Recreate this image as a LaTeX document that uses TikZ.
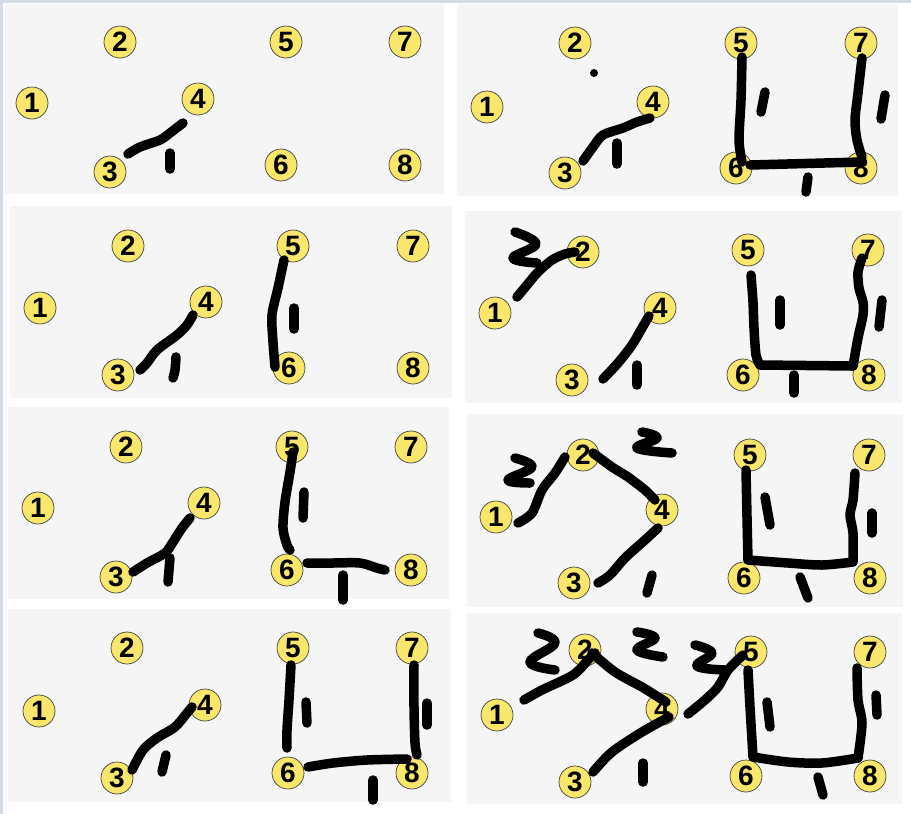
\documentclass[tikz,border=0pt]{standalone}
\usepackage{fontspec}
\setmainfont{Liberation Sans}
\definecolor{nodey}{HTML}{F9E76B}
\definecolor{panelbg}{HTML}{F5F5F5}
\definecolor{frameblue}{HTML}{D3DCE6}
\begin{document}
\begin{tikzpicture}[x=1pt,y=-1pt,
  vtx/.style={circle,draw=black!75,line width=0.7pt,fill=nodey,minimum size=32pt,inner sep=0pt,
    font=\bfseries\fontsize{28}{28}\selectfont},
  ink/.style={line width=9.5pt,line cap=round,line join=round,black},
  panel/.style={fill=panelbg,draw=none}]
\useasboundingbox (0,0) rectangle (911,814);
\fill[white] (0,0) rectangle (911,814);
\fill[frameblue] (0,0) rectangle (3,814);
\fill[frameblue] (0,0) rectangle (911,3);
% panels
\path[panel] (5,4) rectangle (444,194);
\path[panel] (457,4) rectangle (898,196);
\path[panel] (10,206) rectangle (452,398);
\path[panel] (465,211) rectangle (902,403);
\path[panel] (8,407) rectangle (449,599);
\path[panel] (467,414) rectangle (903,607);
\path[panel] (8,609) rectangle (451,802);
\path[panel] (467,613) rectangle (902,804);

% ---------- panel 1L ----------
\node[vtx] (a1) at (32,103) {1};
\node[vtx] (a2) at (120,42) {2};
\node[vtx] (a3) at (110,172) {3};
\node[vtx] (a4) at (198,99) {4};
\node[vtx] (a5) at (286,42) {5};
\node[vtx] (a6) at (281,165) {6};
\node[vtx] (a7) at (405,42) {7};
\node[vtx] (a8) at (405,165) {8};
\draw[ink] plot[smooth] coordinates {(128,154) (140,147) (160,140) (170,133) (183,123)};
\draw[ink] (170,153) -- (170,169);

% ---------- panel 1R ----------
\node[vtx] (b1) at (487,107) {1};
\node[vtx] (b2) at (575,43) {2};
\node[vtx] (b3) at (565,173) {3};
\node[vtx] (b4) at (653,102) {4};
\node[vtx] (b5) at (741,43) {5};
\node[vtx] (b6) at (736,168) {6};
\node[vtx] (b7) at (861,43) {7};
\node[vtx] (b8) at (861,168) {8};
\fill (594,73) circle (4);
\draw[ink] plot[smooth] coordinates {(583,161) (593,147) (603,135) (623,128) (637,122) (650,118)};
\draw[ink] (617,143) -- (617,164);
\draw[ink] plot[smooth] coordinates {(742,57) (741,100) (739,140) (742,162)};
\draw[ink] (750,165) -- (862,162);
\draw[ink] plot[smooth] coordinates {(862,58) (858,93) (855,120) (857,140) (862,157)};
\draw[ink] (765,92) -- (761,112);
\draw[ink] (885,95) -- (881,119);
\draw[ink] (808,177) -- (806,192);

% ---------- panel 2L ----------
\node[vtx] (c1) at (40,308) {1};
\node[vtx] (c2) at (128,246) {2};
\node[vtx] (c3) at (118,375) {3};
\node[vtx] (c4) at (206,302) {4};
\node[vtx] (c5) at (293,246) {5};
\node[vtx] (c6) at (289,368) {6};
\node[vtx] (c7) at (413,246) {7};
\node[vtx] (c8) at (413,368) {8};
\draw[ink] plot[smooth] coordinates {(140,370) (147,363) (157,350) (177,335) (187,325) (193,315)};
\draw[ink] plot[smooth] coordinates {(176,357) (175,370) (173,378)};
\draw[ink] plot[smooth] coordinates {(284,260) (278,288) (272,315) (273,342) (275,367)};
\draw[ink] (294,308) -- (294,329);

% ---------- panel 2R ----------
\node[vtx] (d1) at (495,313) {1};
\node[vtx] (d2) at (583,252) {2};
\node[vtx] (d3) at (572,380) {3};
\node[vtx] (d4) at (660,308) {4};
\node[vtx] (d5) at (748,250) {5};
\node[vtx] (d6) at (743,375) {6};
\node[vtx] (d7) at (868,250) {7};
\node[vtx] (d8) at (869,375) {8};
\draw[ink] plot[smooth] coordinates {(517,297) (527,285) (538,272) (552,260) (565,254) (575,252)};
\draw[ink] plot[smooth,tension=0.7] coordinates {(515,232) (536,244) (513,258) (537,263)};
\draw[ink] plot[smooth] coordinates {(603,379) (618,363) (632,345) (642,328) (649,316)};
\draw[ink] (637,365) -- (637,385);
\draw[ink] plot[smooth] coordinates {(751,275) (753,302) (754,328) (756,355) (760,365)};
\draw[ink] (760,365) -- (853,366);
\draw[ink] plot[smooth] coordinates {(853,366) (858,338) (863,315) (863,302) (859,288) (858,272) (862,258)};
\draw[ink] (780,300) -- (780,325);
\draw[ink] (882,300) -- (879,327);
\draw[ink] (794,375) -- (794,393);

% ---------- panel 3L ----------
\node[vtx] (e1) at (38,508) {1};
\node[vtx] (e2) at (126,447) {2};
\node[vtx] (e3) at (116,577) {3};
\node[vtx] (e4) at (204,503) {4};
\node[vtx] (e5) at (292,447) {5};
\node[vtx] (e6) at (287,570) {6};
\node[vtx] (e7) at (411,447) {7};
\node[vtx] (e8) at (411,570) {8};
\draw[ink] plot[smooth] coordinates {(133,572) (147,563) (165,553) (173,542) (182,528) (190,518)};
\draw[ink] (170,558) -- (168,582);
\draw[ink] plot[smooth] coordinates {(293,452) (290,472) (285,502) (283,528) (287,545) (290,550)};
\draw[ink] (304,492) -- (303,518);
\draw[ink] plot[smooth] coordinates {(307,563) (333,563) (360,563) (377,568) (385,570)};
\draw[ink] (343,575) -- (343,600);

% ---------- panel 3R ----------
\node[vtx] (f1) at (496,517) {1};
\node[vtx] (f2) at (583,455) {2};
\node[vtx] (f3) at (574,583) {3};
\node[vtx] (f4) at (662,510) {4};
\node[vtx] (f5) at (750,455) {5};
\node[vtx] (f6) at (744,578) {6};
\node[vtx] (f7) at (869,455) {7};
\node[vtx] (f8) at (870,578) {8};
\draw[ink] plot[smooth] coordinates {(518,523) (532,513) (542,490) (555,473) (565,457)};
\draw[ink] plot[smooth,tension=0.7] coordinates {(515,458) (532,467) (508,480) (530,483)};
\draw[ink] plot[smooth] coordinates {(593,453) (612,467) (628,477) (645,490) (655,500)};
\draw[ink] plot[smooth,tension=0.7] coordinates {(642,432) (657,438) (637,448) (672,453)};
\draw[ink] plot[smooth] coordinates {(658,528) (645,540) (625,558) (610,575) (598,583)};
\draw[ink] (652,575) -- (647,593);
\draw[ink] plot[smooth] coordinates {(746,470) (747,517) (748,560)};
\draw[ink] plot[smooth] coordinates {(748,560) (788,563) (822,565) (853,562)};
\draw[ink] plot[smooth] coordinates {(853,562) (853,533) (850,515) (853,500) (855,473)};
\draw[ink] (765,497) -- (770,525);
\draw[ink] (872,513) -- (872,533);
\draw[ink] (800,577) -- (808,598);

% ---------- panel 4L ----------
\node[vtx] (g1) at (39,711) {1};
\node[vtx] (g2) at (127,648) {2};
\node[vtx] (g3) at (117,778) {3};
\node[vtx] (g4) at (205,705) {4};
\node[vtx] (g5) at (293,648) {5};
\node[vtx] (g6) at (288,773) {6};
\node[vtx] (g7) at (412,648) {7};
\node[vtx] (g8) at (412,773) {8};
\draw[ink] plot[smooth] coordinates {(132,770) (143,750) (157,738) (175,727) (187,713) (192,707)};
\draw[ink] (166,755) -- (162,772);
\draw[ink] plot[smooth] coordinates {(291,665) (289,700) (287,730) (287,748)};
\draw[ink] (306,702) -- (307,723);
\draw[ink] plot[smooth] coordinates {(308,767) (333,763) (367,760) (407,759)};
\draw[ink] plot[smooth] coordinates {(414,665) (414,707) (415,743) (417,755)};
\draw[ink] (427,703) -- (427,725);
\draw[ink] (373,780) -- (373,800);

% ---------- panel 4R ----------
\node[vtx] (h1) at (497,715) {1};
\node[vtx] (h2) at (585,650) {2};
\node[vtx] (h3) at (575,782) {3};
\node[vtx] (h4) at (662,709) {4};
\node[vtx] (h5) at (751,652) {5};
\node[vtx] (h6) at (746,776) {6};
\node[vtx] (h7) at (870,652) {7};
\node[vtx] (h8) at (870,776) {8};
\draw[ink] plot[smooth] coordinates {(524,700) (542,690) (573,675) (588,660) (595,653)};
\draw[ink] plot[smooth] coordinates {(592,653) (615,672) (642,687) (658,697) (666,702)};
\draw[ink] plot[smooth] coordinates {(669,717) (642,732) (612,752) (593,772)};
\draw[ink] plot[smooth] coordinates {(688,714) (705,700) (718,687) (728,670) (743,655)};
\draw[ink] plot[smooth,tension=0.7] coordinates {(538,633) (555,643) (530,662) (555,670)};
\draw[ink] plot[smooth,tension=0.7] coordinates {(637,632) (655,638) (637,650) (663,657)};
\draw[ink] plot[smooth,tension=0.7] coordinates {(695,645) (712,653) (697,666) (725,670)};
\draw[ink] plot[smooth] coordinates {(748,670) (750,707) (753,757)};
\draw[ink] plot[smooth] coordinates {(753,757) (788,762) (822,763) (858,758)};
\draw[ink] plot[smooth] coordinates {(858,758) (862,723) (858,700) (857,668)};
\draw[ink] (767,702) -- (770,727);
\draw[ink] (876,695) -- (877,715);
\draw[ink] (818,777) -- (823,795);
\draw[ink] (643,763) -- (643,782);
\end{tikzpicture}
\end{document}
